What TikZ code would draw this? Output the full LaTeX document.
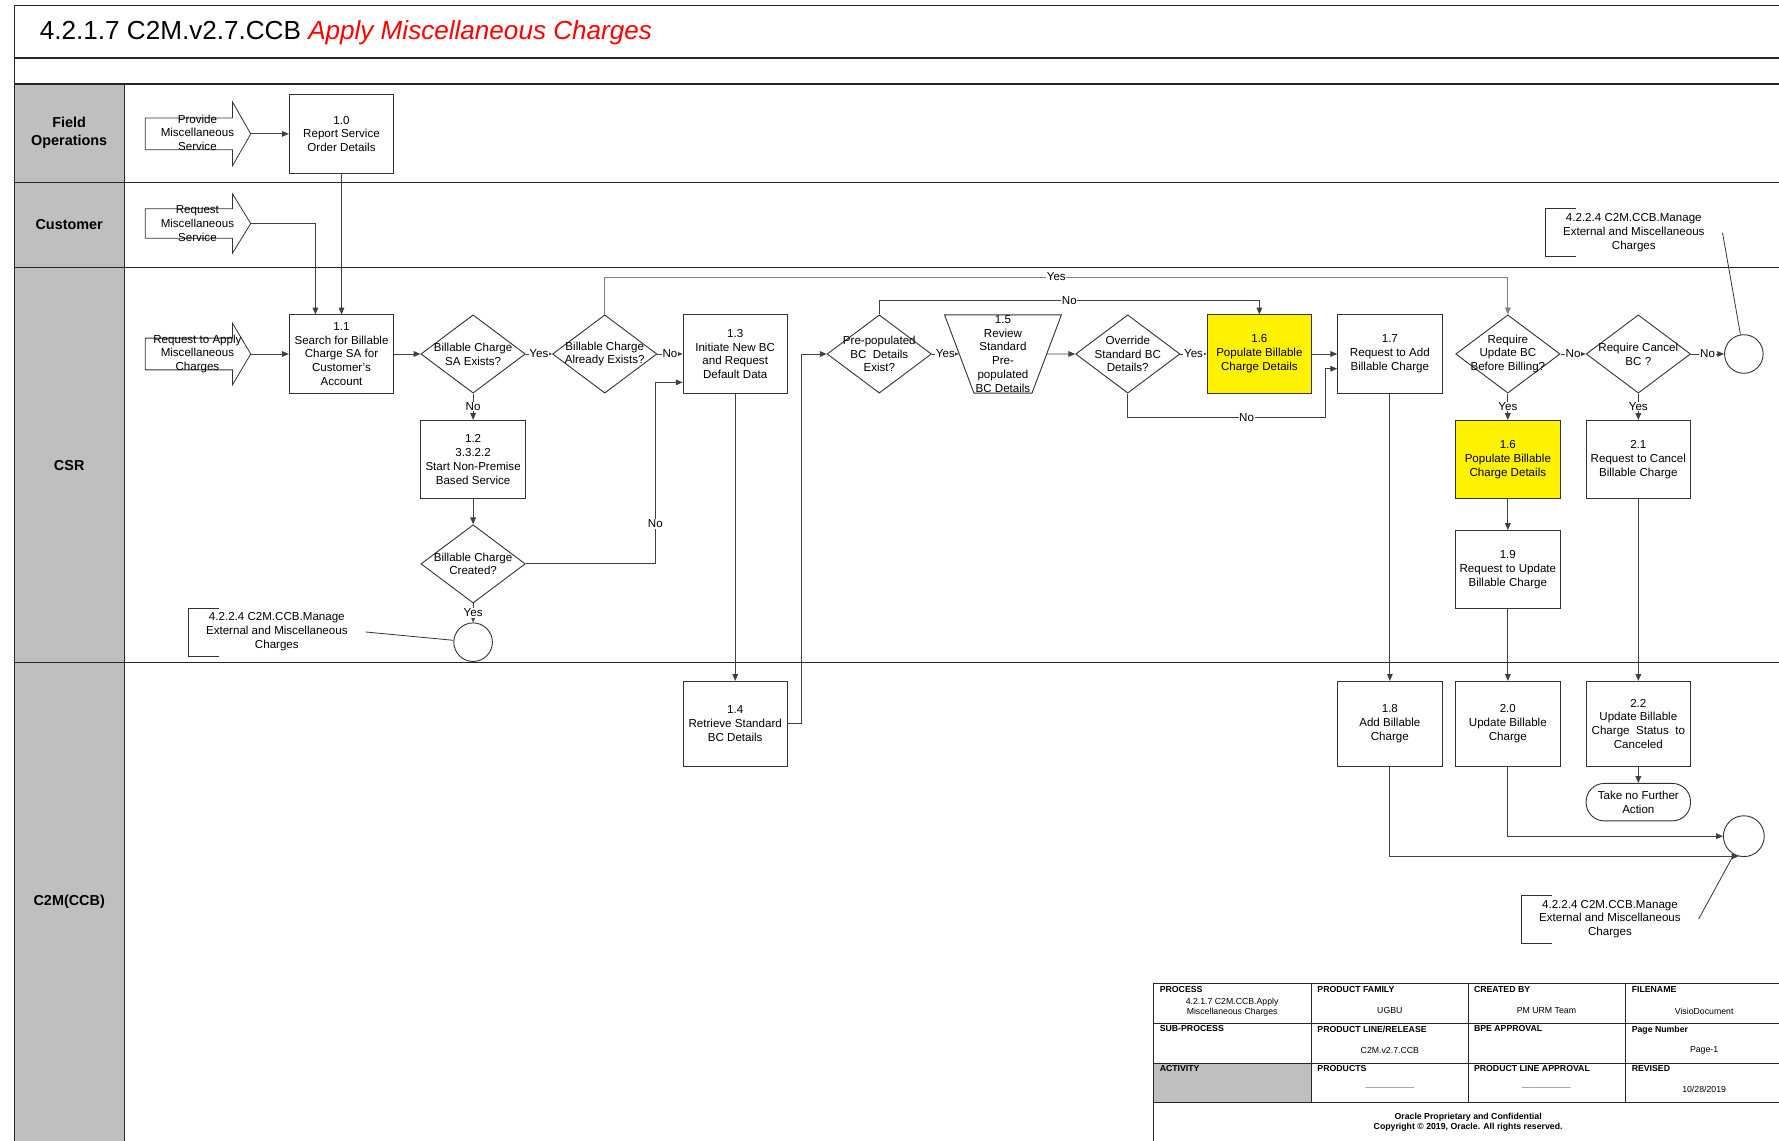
\documentclass[tikz,border=0pt]{standalone}
\usepackage{fontspec}
\setmainfont{Liberation Sans}
\usetikzlibrary{shapes.geometric,arrows.meta,calc}

\tikzset{
  task/.style={rectangle,draw=black!80,line width=0.8pt,minimum width=92pt,minimum height=69pt,inner sep=1pt,align=center},
  hot/.style={task,fill=yellow},
  choice/.style={diamond,draw=black!80,line width=0.8pt,minimum width=92pt,minimum height=69pt,inner sep=0pt},
  review/.style={trapezium,draw=black!80,line width=0.8pt,trapezium left angle=69.4,trapezium right angle=69.4,
    shape border rotate=180,trapezium stretches body=true,minimum width=103pt,minimum height=69pt,inner sep=0pt},
  endpt/.style={circle,draw=black!80,line width=0.8pt,minimum size=34pt,inner sep=0pt},
  stop/.style={rectangle,rounded corners=16pt,draw=black!80,line width=0.8pt,minimum width=92pt,minimum height=33pt,align=center,inner sep=0pt},
  src/.style={align=center,inner sep=0pt},
  note/.style={minimum width=156pt,minimum height=42pt,inner sep=0pt,align=center},
  every label/.style={align=center,inner sep=0pt},
  lbl/.style={fill=white,inner sep=0.6pt},
  flow/.style={draw=black!75,line width=0.8pt,-{Triangle[length=6pt,width=5pt]}},
  thinline/.style={draw=black!80,line width=0.7pt},
  lanerule/.style={draw=black!85,line width=1.2pt},
  th/.style={anchor=north west,inner sep=0pt,font=\bfseries\fontsize{7.7}{9}\selectfont},
  td/.style={align=center,inner sep=0pt,font=\fontsize{7.7}{9}\selectfont},
}

\begin{document}
\begin{tikzpicture}[x=1pt,y=-1pt,font=\fontsize{10.2}{12.2}\selectfont]

  \clip (0,0) rectangle (1568,1005);
  \fill[white] (0,0) rectangle (1568,1005);

  % frame and lanes
  \fill[black!25] (13,74) rectangle (110,1020);
  \draw[lanerule] (13,1020) -- (13,5) -- (1580,5);
  \draw[lanerule] (13,51) -- (1580,51);
  \draw[lanerule] (13,74) -- (1580,74);
  \draw[lanerule] (13,161) -- (1580,161);
  \draw[lanerule] (13,236) -- (1580,236);
  \draw[lanerule] (13,584) -- (1580,584);
  \draw[lanerule] (110,74) -- (110,1020);

  \node[anchor=base west,inner sep=0pt,font=\fontsize{23}{27}\selectfont] (title) at (35,35)
    {4.2.1.7 C2M.v2.7.CCB \textcolor{red}{\itshape Apply Miscellaneous Charges}};

  \begin{scope}[every node/.style={align=center,font=\bfseries\fontsize{12.7}{16}\selectfont}]
    \node (fo)  at (61,117) {Field\\Operations};
    \node (cu)  at (61,198) {Customer};
    \node (csr) at (61,410) {CSR};
    \node (c2m) at (61,795) {C2M(CCB)};
  \end{scope}

  % triggers
  \draw[thinline] (128,104) -- (205,104) -- (205,90) -- (221,118) -- (205,146) -- (205,132) -- (128,132) -- cycle;
  \draw[thinline] (128,184) -- (205,184) -- (205,171) -- (221,197) -- (205,223) -- (205,210) -- (128,210) -- cycle;
  \draw[thinline] (128,298) -- (205,298) -- (205,285) -- (221,312) -- (205,339) -- (205,326) -- (128,326) -- cycle;
  \node[src] (pms) at (174,117) {Provide\\Miscellaneous\\Service};
  \node[src] (rms) at (174,197) {Request\\Miscellaneous\\Service};
  \node[src] (ram) at (174,312) {Request to Apply\\Miscellaneous\\Charges};
  \coordinate (pmstip) at (221,118);
  \coordinate (rmstip) at (221,197);
  \coordinate (ramtip) at (221,312);

  % tasks
  \node[task] (n10) at (301,118) {1.0\\Report Service\\Order Details};
  \node[task] (n11) at (301,312) {1.1\\Search for Billable\\Charge SA for\\Customer's\\Account};
  \node[task] (n12) at (417,405) {1.2\\3.3.2.2\\Start Non-Premise\\Based Service};
  \node[task] (n13) at (648,312) {1.3\\Initiate New BC\\and Request\\Default Data};
  \node[hot]  (n16) at (1110,312) {1.6\\Populate Billable\\Charge Details};
  \node[task] (n17) at (1225,312) {1.7\\Request to Add\\Billable Charge};
  \node[hot]  (n16b) at (1329,405) {1.6\\Populate Billable\\Charge Details};
  \node[task] (n21) at (1444,405) {2.1\\Request to Cancel\\Billable Charge};
  \node[task] (n19) at (1329,502) {1.9\\Request to Update\\Billable Charge};
  \node[task,minimum height=75pt] (n14) at (648,638) {1.4\\Retrieve Standard\\BC Details};
  \node[task,minimum height=75pt] (n18) at (1225,638) {1.8\\Add Billable\\Charge};
  \node[task,minimum height=75pt] (n20) at (1329,638) {2.0\\Update Billable\\Charge};
  \node[task,minimum height=75pt] (n22) at (1444,638) {2.2\\Update Billable\\Charge~ Status~ to\\Canceled};
  \node[stop] (nfa) at (1444,707) {Take no Further\\Action};

  % decisions
  \node[choice,label={center:Billable Charge\\SA Exists?}] (q1) at (417,312) {};
  \node[choice,label={center:Billable Charge\\Already Exists?}] (q2) at (533,312) {};
  \node[choice,label={center:Pre-populated\\BC~ Details\\Exist?}] (q3) at (775,312) {};
  \node[review,label={center:1.5\\Review\\Standard\\Pre-\\populated\\BC Details}] (t15) at (884,312) {\rule{0pt}{69pt}};
  \node[choice,label={center:Override\\Standard BC\\Details?}] (q4) at (994,312) {};
  \node[choice,label={center:Require\\Update BC\\Before Billing?}] (q5) at (1329,312) {};
  \node[choice,label={center:Require Cancel\\BC ?}] (q7) at (1444,312) {};
  \node[choice,label={center:Billable Charge\\Created?}] (q6) at (417,497) {};

  % off-page links
  \node[endpt] (e1) at (417,566) {};
  \node[endpt] (e2) at (1537,312) {};
  \node[endpt,minimum size=36pt] (e3) at (1537,737) {};
  \node[note] (x1) at (244,557) {4.2.2.4 C2M.CCB.Manage\\External and Miscellaneous\\Charges};
  \node[note] (x2) at (1440,205) {4.2.2.4 C2M.CCB.Manage\\External and Miscellaneous\\Charges};
  \node[note] (x3) at (1419,810) {4.2.2.4 C2M.CCB.Manage\\External and Miscellaneous\\Charges};
  \draw[thinline] ([xshift=27pt]x1.north west) -- (x1.north west) -- (x1.south west) -- ([xshift=27pt]x1.south west);
  \draw[thinline] ([xshift=27pt]x2.north west) -- (x2.north west) -- (x2.south west) -- ([xshift=27pt]x2.south west);
  \draw[thinline] ([xshift=27pt]x3.north west) -- (x3.north west) -- (x3.south west) -- ([xshift=27pt]x3.south west);
  \draw[thinline] (x1.east) -- (e1);
  \draw[thinline] (x2.east) -- (e2);
  \draw[thinline] (x3.east) -- (e3);

  \begin{scope}[every node/.style={lbl}]

    \begin{scope}[every edge/.style={flow}]
      \path (pmstip) edge (n10);
      \path (n10)  edge (n11);
      \path (ramtip) edge (n11);
      \path (n11)  edge (q1);
      \path (q1)   edge node {Yes} (q2);
      \path (q1)   edge node {No} (n12);
      \path (n12)  edge (q6);
      \path (q6)   edge node {Yes} (e1);
      \path (q2)   edge node {No} (n13);
      \path (n13)  edge (n14);
      \path (q3)   edge node {Yes} (t15);
      \path (t15)  edge (q4);
      \path (q4)   edge node {Yes} (n16);
      \path (n16)  edge (n17);
      \path (n17)  edge (n18);
      \path (q5)   edge node {No} (q7);
      \path (q5)   edge node {Yes} (n16b);
      \path (q7)   edge node {No} (e2);
      \path (q7)   edge node {Yes} (n21);
      \path (n16b) edge (n19);
      \path (n19)  edge (n20);
      \path (n21)  edge (n22);
      \path (n22)  edge (nfa);
    \end{scope}

    \draw[flow] (rmstip) -| ($(n11.north)+(-23,0)$);
    \draw[flow,draw=black!50] (q2.north) -- ++(0,-33) -| node[pos=0.25] {Yes} (q5.north);
    \draw[flow] (q3.north) -- ++(0,-12) -| node[pos=0.25] {No} (n16.north);
    \draw[flow] (q6.east) -| node[pos=0.61] {No} ($(n13.west)+(-24,25)$) -- ($(n13.west)+(0,25)$);
    \draw[flow] (n14.east) -- ++(12,0) |- (q3.west);
    \draw[flow] (q4.south) -- ++(0,21) -| node[pos=0.3] {No} ($(n17.west)+(-10,13)$) -- ($(n17.west)+(0,13)$);
    \draw[flow] (n20.south) |- (e3.west);
    \draw[flow] (n18.south) |- (e3.-105);
  \end{scope}

  % title block
  \fill[black!25] (1017,937) rectangle (1156,972);
  \draw[lanerule,line width=1pt] (1017,1020) -- (1017,867) -- (1580,867);
  \draw[lanerule,line width=1pt] (1017,902) -- (1580,902);
  \draw[lanerule,line width=1pt] (1017,937) -- (1580,937);
  \draw[lanerule,line width=1pt] (1017,972) -- (1580,972);
  \draw[lanerule,line width=1pt] (1156,867) -- (1156,972);
  \draw[lanerule,line width=1pt] (1294,867) -- (1294,972);
  \draw[lanerule,line width=1pt] (1433,867) -- (1433,972);
  \draw[lanerule,line width=1pt] (1571,867) -- (1571,1020);

  \node[th] (h11) at (1022,869) {PROCESS};
  \node[th] (h12) at (1161,869) {PRODUCT FAMILY};
  \node[th] (h13) at (1299,869) {CREATED BY};
  \node[th] (h14) at (1438,869) {FILENAME};
  \node[th] (h21) at (1022,904) {SUB-PROCESS};
  \node[th] (h22) at (1161,904) {PRODUCT LINE/RELEASE};
  \node[th] (h23) at (1299,904) {BPE APPROVAL};
  \node[th] (h24) at (1438,904) {Page Number};
  \node[th] (h31) at (1022,939) {ACTIVITY};
  \node[th] (h32) at (1161,939) {PRODUCTS};
  \node[th] (h33) at (1299,939) {PRODUCT LINE APPROVAL};
  \node[th] (h34) at (1438,939) {REVISED};

  \node[td] (v11) at (1086,888) {4.2.1.7 C2M.CCB.Apply\\Miscellaneous Charges};
  \node[td] (v12) at (1225,891) {UGBU};
  \node[td] (v13) at (1363,891) {PM URM Team};
  \node[td] (v14) at (1502,891) {VisioDocument};
  \node[td] (v22) at (1225,926) {C2M.v2.7.CCB};
  \node[td] (v24) at (1502,926) {Page-1};
  \node[td,text=black!60] (v32) at (1225,958) {\_\_\_\_\_\_\_\_\_\_};
  \node[td,text=black!60] (v33) at (1363,958) {\_\_\_\_\_\_\_\_\_\_};
  \node[td] (v34) at (1502,960) {10/28/2019};
  \node[td,font=\bfseries\fontsize{7.7}{9}\selectfont] (copy) at (1294,989)
    {Oracle Proprietary and Confidential\\Copyright © 2019, Oracle. All rights reserved.};

\end{tikzpicture}
\end{document}
